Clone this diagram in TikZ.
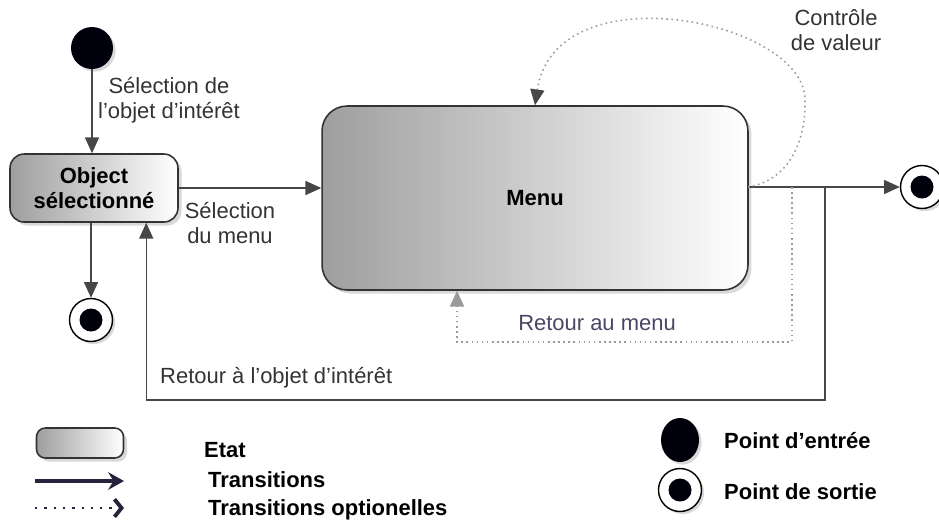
\documentclass[tikz,border=0pt]{standalone}
\usepackage{fontspec}
\setmainfont{Liberation Sans}
\usetikzlibrary{arrows.meta,shadows,calc,shapes.geometric}

\definecolor{fleche}{HTML}{474747}
\definecolor{pointille}{HTML}{9A9A9A}
\definecolor{retour}{HTML}{4C4566}
\definecolor{legende}{HTML}{26233D}

\tikzset{
  etat/.style={draw=black!80, line width=0.9pt, left color=black!38, right color=white,
    drop shadow={shadow xshift=2pt, shadow yshift=-2pt, opacity=0.3},
    font=\fontsize{12.5}{14.5}\selectfont\bfseries, align=center, inner sep=0pt},
  trans/.style={draw=fleche, line width=0.8pt, -{Triangle[width=8pt,length=9pt]}},
  opttrans/.style={draw=pointille, line width=0.9pt, dotted,
    -{Triangle[width=8pt,length=9pt,color=pointille]}},
  etiq/.style={font=\fontsize{12.5}{14.5}\selectfont, text=black!80, align=center},
  leg/.style={font=\fontsize{12.5}{14.5}\selectfont\bfseries, anchor=west},
  entree/.style={circle, fill=black!95!blue, minimum size=0.84cm, inner sep=0pt,
    drop shadow={shadow xshift=1.5pt, shadow yshift=-1.5pt, opacity=0.3}},
  sortie/.style={circle, draw=black, fill=white, line width=0.8pt, minimum size=0.86cm, inner sep=0pt,
    drop shadow={shadow xshift=1.5pt, shadow yshift=-1.5pt, opacity=0.3},
    path picture={\fill[black!95!blue] (path picture bounding box.center) circle (0.23cm);}}
}

\begin{document}
\begin{tikzpicture}[x=0.02cm, y=-0.02cm]
  \useasboundingbox (0,0) rectangle (939,522);

  \node[entree] (entree) at (92,48) {};
  \node[etat, rounded corners=8pt, minimum width=3.36cm, minimum height=1.36cm]
    (objsel) at (94,188) {Object\\sélectionné};
  \node[etat, rounded corners=0.5cm, minimum width=8.52cm, minimum height=3.68cm]
    (menu) at (535,198) {Menu};
  \node[sortie] (sortie1) at (91,320) {};
  \node[sortie] (sortie2) at (922,187) {};

  \coordinate (r0) at (748,187);
  \coordinate (r3) at (792,187);
  \coordinate (r1) at (825,187);
  \coordinate (bas) at (825,400);
  \coordinate (m1) at (457,342);
  \coordinate (boucle) at (805,100);

  \draw[trans] (entree) -- (entree |- objsel.north);
  \draw[trans] (objsel.east |- 0,188) -- (menu.west |- 0,188);
  \draw[trans] (sortie1 |- objsel.south) -- (sortie1);
  \draw[trans] (r0) -- (sortie2);
  \draw[trans] (r1) -- (bas) -| ($(objsel.south west)+(137,0)$);
  \draw[opttrans] (r3) |- (m1) -- (m1 |- menu.south);
  \draw[opttrans, -{Triangle[width=8pt,length=9pt,color=fleche]}]
    (r0) .. controls (790,180) and (806,140) .. (boucle)
         .. controls (805,20) and (555,-30) .. (menu.north);

  \node[etiq] (l1) at (169,100) {Sélection de\\l’objet d’intérêt};
  \node[etiq] (l2) at (230,223) {Sélection\\du menu};
  \node[etiq] (l3) at (836,30) {Contrôle\\de valeur};
  \node[etiq, text=retour] (l4) at (597,323) {Retour au menu};
  \node[etiq, anchor=west] (l5) at (154,378) {Retour à l’objet d’intérêt};

  \node[etat, rounded corners=5pt, minimum width=1.74cm, minimum height=0.6cm] (legetat) at (80,443) {};
  \coordinate (legA) at (35,481);
  \coordinate (legB) at (124,481);
  \coordinate (legC) at (35,508);
  \coordinate (legD) at (124,508);
  \draw[legende, line width=2pt, -{Stealth[length=9pt,width=10pt,inset=3pt]}] (legA) -- (legB);
  \draw[legende, line width=1.3pt, dash pattern=on 1.3pt off 4pt,
    -{Straight Barb[length=4pt,width=10pt,line width=2.2pt]}] (legC) -- (legD);
  \node[leg] (t1) at (198,450) {Etat};
  \node[leg] (t2) at (202,480) {Transitions};
  \node[leg] (t3) at (202,510) {Transitions optionelles};

  \node[entree, ellipse, minimum width=0.76cm, minimum height=0.88cm] (legentree) at (680,440) {};
  \node[sortie] (legsortie) at (680,490) {};
  \node[leg] (t4) at (718,441) {Point d’entrée};
  \node[leg] (t5) at (718,492) {Point de sortie};
\end{tikzpicture}
\end{document}
